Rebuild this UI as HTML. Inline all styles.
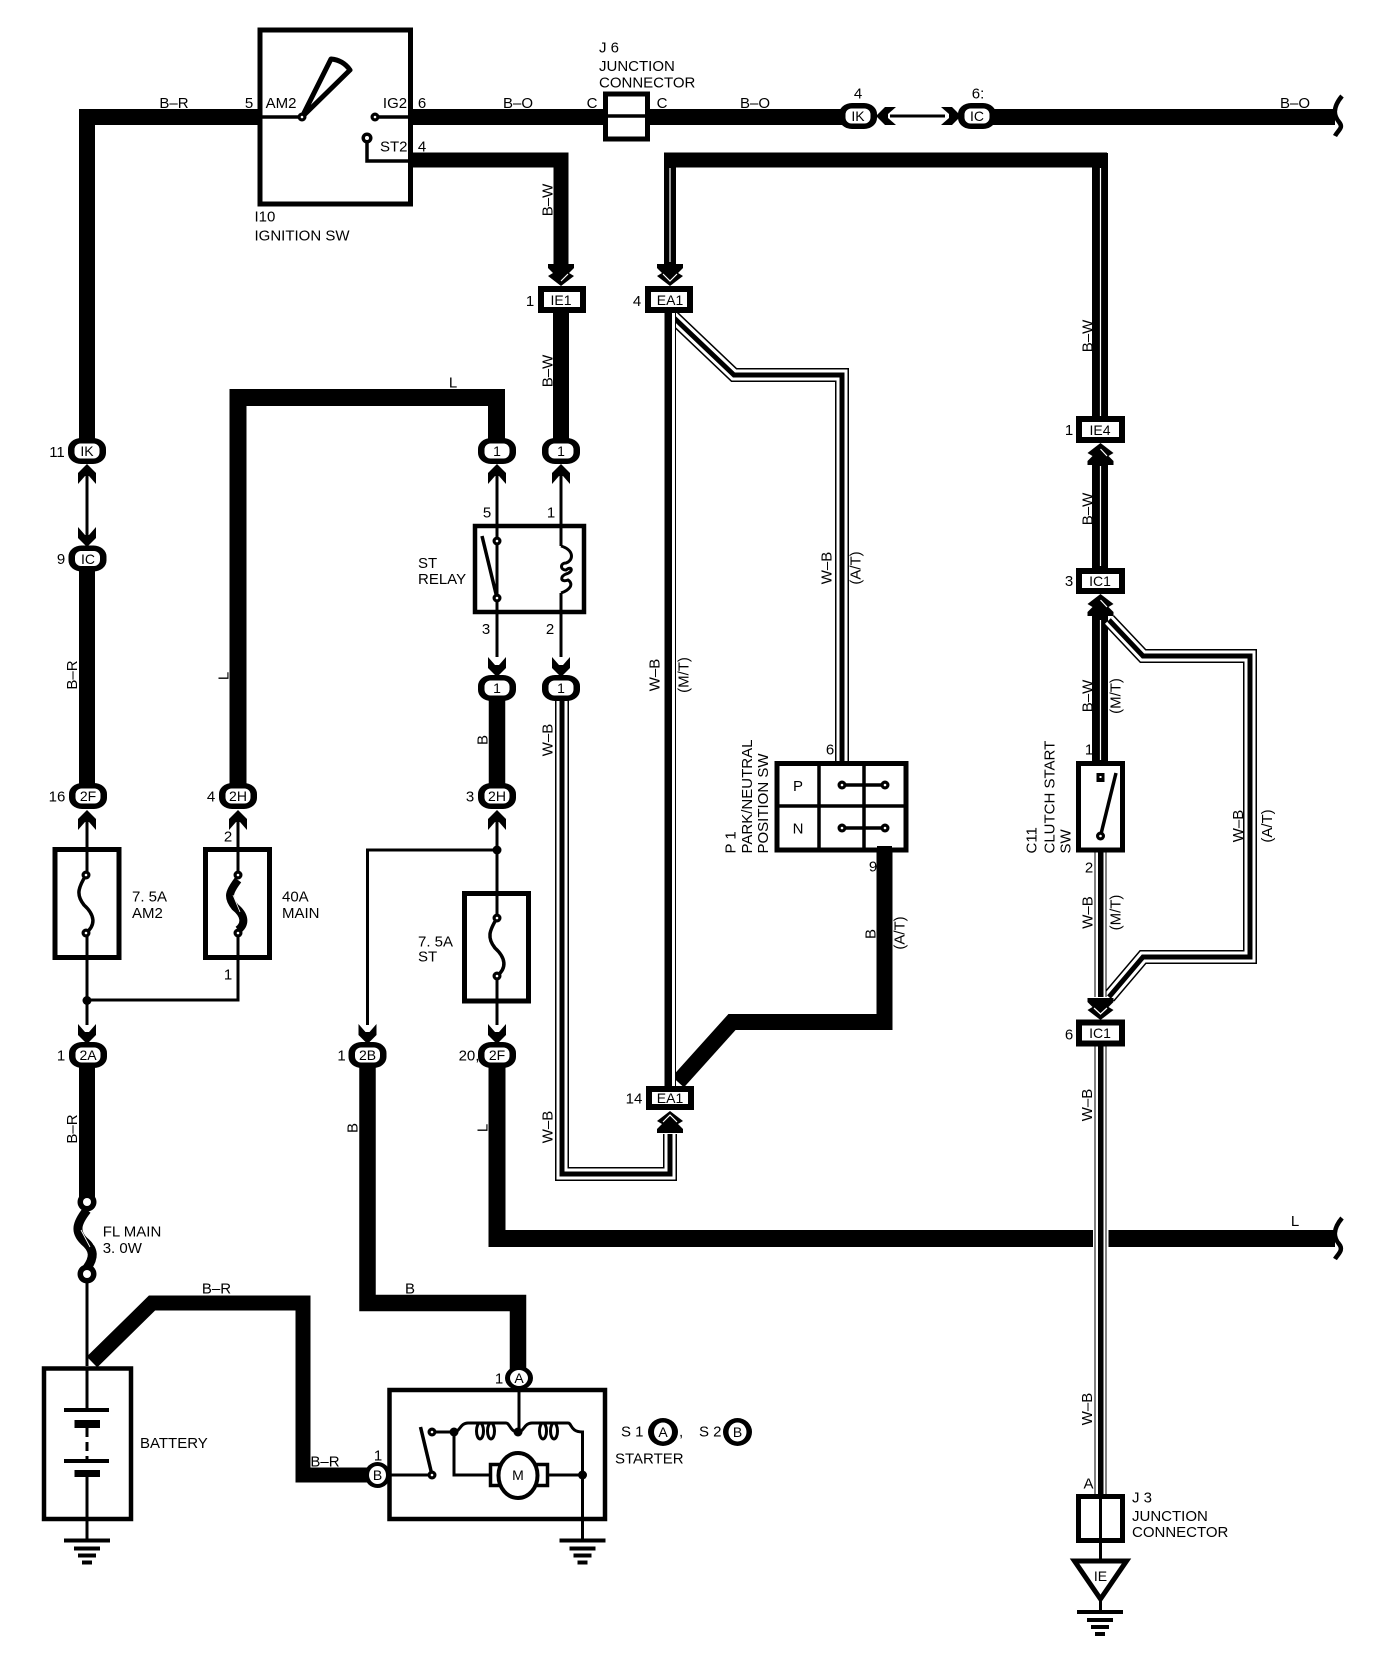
<!DOCTYPE html>
<html><head><meta charset="utf-8"><style>
html,body{margin:0;padding:0;background:#fff}
svg{display:block}
text{font-family:"Liberation Sans",sans-serif;font-size:15px;fill:#000}
.m{text-anchor:middle}
.c{font-size:14px;text-anchor:middle}
.w{fill:none;stroke:#000;stroke-linejoin:miter}
.b{fill:#fff;stroke:#000}
</style></head><body>
<svg width="1392" height="1664" viewBox="0 0 1392 1664" xmlns="http://www.w3.org/2000/svg">
<defs>
<path id="ad" d="M-9 0L-2 8L2 8L9 0L9 11L0 20L-9 11Z"/>
<path id="au" d="M-9 0L-2 -8L2 -8L9 0L9 -11L0 -20L-9 -11Z"/>
<path id="adl" d="M-13 0H13V4L8 9L13 12L0 22L-13 12L-8 9L-13 4Z"/>
<path id="aul" d="M-13 0H13V-4L8 -9L13 -12L0 -22L-13 -12L-8 -9L-13 -4Z"/>
<g id="cn"><rect x="-19" y="-13" width="38" height="26" rx="13" ry="11" fill="#000"/><rect x="-12.500" y="-7.500" width="25" height="15" rx="6" ry="6" fill="#fff"/></g>
<g id="gnd"><rect x="-23" y="-2" width="46" height="4"/><rect x="-13" y="6" width="26" height="4"/><rect x="-9" y="13" width="18" height="4"/><rect x="-5" y="20" width="10" height="4"/></g>
<g id="term"><circle r="4.500" fill="#000"/><circle r="1.300" fill="#fff"/></g>
</defs>

<!-- black solid wires -->
<g class="w">
<path stroke-width="16" d="M258 117H87V440"/>
<path stroke-width="16" d="M413 117H870"/>
<path stroke-width="16" d="M965 117H1335"/>
<path stroke-width="15" d="M413 160H561V266"/>
<path stroke-width="16" d="M561 312V440"/>
<path stroke-width="17" d="M238 785V397.500H496.500V440"/>
<path stroke-width="16" d="M87 560V785"/>
<path stroke-width="16.500" d="M497 688V785"/>
<path stroke-width="16" d="M87 1055V1200"/>
<path stroke-width="16.500" d="M367.500 1055V1303H518V1370"/>
<path stroke-width="17" d="M497 1055V1238.500H1335"/>
<path stroke-width="15" d="M92 1362L152 1303H303V1475H370"/>
<path stroke-width="16" d="M884.500 850V1022H732L678 1082"/>
<path stroke-width="15" d="M664 160H1107" />
<path stroke-width="12" d="M670 154V266"/>
<path stroke-width="16" d="M1100 153V420"/>
<path stroke-width="16" d="M1100 460V570"/>
<path stroke-width="16" d="M1100 610V765"/>
</g>
<!-- white slits -->
<g stroke="#fff" stroke-width="1.200" fill="none">
<path d="M670 168V262"/>
<path d="M1100.500 168V416"/>
<path d="M1100.500 466V566"/>
<path d="M1100.500 620V760"/>
</g>
<rect x="1093" y="1225" width="15.500" height="26" fill="#fff"/>

<!-- white/black W-B wires -->
<g class="w" stroke-linejoin="miter">
<path stroke-width="14" d="M672 316L734 375H842V762"/>
<path stroke="#fff" stroke-width="11" d="M672 316L734 375H842V762"/>
<path stroke-width="5" d="M672 316L734 375H842V762"/>
<path stroke-width="14" d="M562 690V1174H670V1134"/>
<path stroke="#fff" stroke-width="11" d="M562 690V1174H670V1134"/>
<path stroke-width="5" d="M562 690V1174H670V1134"/>
<path stroke-width="14" d="M1109 620L1143 656H1250V957H1143L1109 997"/>
<path stroke="#fff" stroke-width="11" d="M1109 620L1143 656H1250V957H1143L1109 997"/>
<path stroke-width="5" d="M1109 620L1143 656H1250V957H1143L1109 997"/>
</g>
<rect x="664.500" y="312" width="11.500" height="775" fill="#000"/>
<rect x="672" y="312" width="3" height="775" fill="#fff"/>
<rect x="1094.500" y="852" width="12" height="145" fill="#000"/>
<rect x="1095.500" y="852" width="10" height="145" fill="#fff"/>
<rect x="1098" y="852" width="5.500" height="145" fill="#000"/>
<rect x="1094.500" y="1046" width="12" height="448" fill="#000"/>
<rect x="1095.500" y="1046" width="10" height="448" fill="#fff"/>
<rect x="1098" y="1046" width="5.500" height="448" fill="#000"/>

<!-- thin wires -->
<g class="w" stroke-width="3">
<path d="M87 470V535"/><path d="M497 470V657"/>
<path d="M561 470V546"/><path d="M561 593V657"/>
<path d="M87 815V1025"/><path d="M238 815V1000H87"/>
<path d="M497 815V1025"/><path d="M497 850H367.500V1025"/>
<path d="M890 116H945"/>
<path d="M87 1274V1366"/>
</g>
<circle cx="87" cy="1000.500" r="4.500"/><circle cx="497" cy="850" r="4.500"/>

<!-- squiggles -->
<path d="M1342 96C1332 108 1334 116 1339 122C1344 128 1338 130 1335 136" class="w" stroke-width="4.500"/>
<path d="M1342 1218C1332 1230 1334 1238 1339 1244C1344 1250 1338 1254 1335 1259" class="w" stroke-width="4.500"/>

<!-- ignition switch -->
<rect x="260" y="30" width="150.500" height="174" fill="none" stroke="#000" stroke-width="5"/>
<path class="w" stroke-width="3.500" d="M258 117H302M375 117H413M367 138V161H413"/>
<path d="M302 117L331 59Q343 60 350 70Z" fill="#fff" stroke="#000" stroke-width="5" stroke-linejoin="round"/>
<use href="#term" x="302" y="117"/><use href="#term" x="375" y="117"/>
<circle cx="367" cy="138" r="5.500"/><circle cx="367" cy="138" r="2" fill="#fff"/>

<!-- J6 -->
<rect x="605.500" y="94" width="42" height="45" class="b" stroke-width="5"/>
<path class="w" stroke-width="3.500" d="M605 116H648"/>

<!-- connector boxes -->
<g class="b" stroke-width="6">
<rect x="541" y="289" width="42" height="21"/>
<rect x="648" y="289" width="42" height="21"/>
<rect x="1079" y="419" width="43" height="21"/>
<rect x="1079" y="571" width="43" height="20"/>
<rect x="1079" y="1022.500" width="43" height="21"/>
<rect x="649" y="1089" width="42" height="18"/>
</g>

<!-- arrowheads -->
<g>
<use href="#ad" x="87" y="527"/>
<use href="#au" x="87" y="484"/><use href="#au" x="497" y="484"/><use href="#au" x="561" y="484"/>
<use href="#au" x="87" y="830"/><use href="#au" x="238" y="830"/><use href="#au" x="497" y="830"/>
<use href="#ad" x="497" y="657"/><use href="#ad" x="561" y="657"/>
<use href="#ad" x="87" y="1024"/><use href="#ad" x="367.500" y="1024"/><use href="#ad" x="497" y="1024"/>
<use href="#adl" x="561" y="264"/><use href="#adl" x="670" y="264"/>
<use href="#adl" x="1100.500" y="998"/>
<use href="#aul" x="1100.500" y="465"/><use href="#aul" x="1100.500" y="616"/><use href="#aul" x="670" y="1133"/>
<g transform="translate(896 116) rotate(90)"><use href="#ad"/></g>
<g transform="translate(941 116) rotate(-90)"><use href="#ad"/></g>
</g>
<g fill="none" stroke="#fff" stroke-width="1.200">
<path d="M663 274L670 281L677 274"/>
<path d="M561 281L568 274"/>
<path d="M1094 1008L1100.500 1014L1107 1008"/>
<path d="M1100.500 449L1107 456"/>
<path d="M1100.500 600L1107 607"/>
<path d="M663 1122L670 1115L677 1122"/>
</g>

<!-- round connectors -->
<use href="#cn" x="858" y="116"/><use href="#cn" x="977" y="116"/>
<use href="#cn" x="87" y="451"/><use href="#cn" x="497" y="451"/><use href="#cn" x="561" y="451"/>
<use href="#cn" x="87.500" y="558.500"/>
<use href="#cn" x="497" y="688"/><use href="#cn" x="561" y="688"/>
<use href="#cn" x="88" y="796"/><use href="#cn" x="238" y="796"/><use href="#cn" x="497" y="796"/>
<use href="#cn" x="88" y="1055"/><use href="#cn" x="367.500" y="1055"/><use href="#cn" x="497" y="1055"/>
<ellipse cx="519" cy="1378" rx="14" ry="12" fill="#000"/><ellipse cx="519" cy="1378" rx="9" ry="8" fill="#fff"/>
<ellipse cx="377.500" cy="1475" rx="13" ry="13" fill="#000"/><ellipse cx="377.500" cy="1475" rx="8.500" ry="9" fill="#fff"/>
<ellipse cx="663" cy="1432" rx="15" ry="14" fill="#000"/><ellipse cx="663" cy="1432" rx="9" ry="9.500" fill="#fff"/>
<ellipse cx="737.500" cy="1432" rx="14.500" ry="14" fill="#000"/><ellipse cx="737.500" cy="1432" rx="9" ry="9.500" fill="#fff"/>

<!-- relay -->
<rect x="475" y="526" width="109" height="86" fill="none" stroke="#000" stroke-width="4.500"/>
<path class="w" stroke-width="3" d="M497 470V541M497 598V657"/>
<path class="w" stroke-width="3.500" d="M497 598L482 536"/>
<use href="#term" x="497" y="541"/><use href="#term" x="497" y="598"/>
<path class="w" stroke-width="3" d="M561 546C574 550 574 560 566 563C560 563 560 570 566 570C572 565 574 572 566 574C560 576 560 583 568 580C574 584 570 590 561 593"/>

<!-- fuses -->
<g class="b" stroke-width="5">
<rect x="55" y="849.500" width="64" height="108"/>
<rect x="205.500" y="849.500" width="64" height="108"/>
<rect x="464.500" y="893.500" width="64" height="107.500"/>
</g>
<path class="w" stroke-width="3" d="M87 847V875M87 933V1000M238 847V875M238 933V1000M497 850V918M497 976V1025"/>
<path class="w" stroke-width="3.500" d="M86 875C78 888 76 895 84 905C95 915 96 925 86 933"/>
<path class="w" stroke-width="3.500" d="M497 918C489 931 487 938 495 948C506 958 507 968 497 976"/>
<path class="w" stroke-width="8" d="M238 880C229 892 227 897 235 907C245 915 246 924 238 930"/>
<path d="M233 895L240 912M237 893L244 910" stroke="#fff" stroke-width="0.800" fill="none"/>
<use href="#term" x="86" y="875"/><use href="#term" x="86" y="933"/>
<use href="#term" x="238" y="875"/><use href="#term" x="238" y="933"/>
<use href="#term" x="497" y="918"/><use href="#term" x="497" y="976"/>

<!-- FL main -->
<path class="w" stroke-width="9" d="M87 1210C76 1224 75 1232 84 1241C95 1250 94 1258 87 1268"/>
<path d="M81 1230L90 1247M85 1228L94 1245" stroke="#fff" stroke-width="0.900" fill="none"/>
<circle cx="87" cy="1202" r="9.500"/><circle cx="87" cy="1202" r="4" fill="#fff"/>
<circle cx="87" cy="1274" r="9.500"/><circle cx="87" cy="1274" r="4" fill="#fff"/>

<!-- battery -->
<rect x="44" y="1368.500" width="87" height="150.500" fill="#fff" stroke="#000" stroke-width="4.500"/>
<g class="w" stroke-width="3">
<path d="M87 1368V1410"/><path d="M87 1428V1461" stroke-dasharray="9 5"/><path d="M87 1477V1540"/>
</g>
<rect x="64" y="1408" width="45" height="4"/><rect x="74.500" y="1420" width="25.500" height="8"/>
<rect x="64" y="1459" width="45" height="4"/><rect x="74.500" y="1470" width="25.500" height="7"/>
<use href="#gnd" x="87" y="1540.500"/>

<!-- starter -->
<rect x="389.500" y="1390" width="215.500" height="129" fill="none" stroke="#000" stroke-width="4.500"/>
<g class="w" stroke-width="3">
<path d="M519 1390V1432"/>
<path d="M436 1432H454C460 1432 460 1423 468 1423H506C510 1423 510 1432 518 1432C524 1432 524 1423 532 1423H568C572 1423 570 1432 582.500 1432V1540"/>
<path d="M454 1432V1475H489M549 1475H582.500"/>
<path d="M389 1475H432"/>
</g>
<g fill="#fff" stroke="#000" stroke-width="3">
<ellipse cx="480" cy="1431" rx="3.500" ry="8"/><ellipse cx="491" cy="1431" rx="3.500" ry="8"/>
<ellipse cx="543" cy="1431" rx="3.500" ry="8"/><ellipse cx="554" cy="1431" rx="3.500" ry="8"/>
</g>
<path class="w" stroke-width="3.500" d="M432 1475L420.500 1427"/>
<use href="#term" x="432" y="1475"/><use href="#term" x="432" y="1432"/>
<circle cx="454" cy="1432" r="4.500"/><circle cx="518" cy="1432" r="4.500"/><circle cx="582.500" cy="1475" r="4.500"/>
<rect x="490.500" y="1464.500" width="57" height="21" class="b" stroke-width="3.500"/>
<rect x="494" y="1468" width="50" height="14" fill="#fff"/>
<ellipse cx="518" cy="1475.500" rx="19.500" ry="22.500" class="b" stroke-width="4"/>
<use href="#gnd" x="582.500" y="1540.500"/>

<!-- P1 switch -->
<rect x="777" y="763.500" width="129" height="86.500" fill="#fff" stroke="#000" stroke-width="5"/>
<path class="w" stroke-width="3.500" d="M819 763V850M864 763V850M777 806H906"/>
<path class="w" stroke-width="3.500" d="M842 785H885M842 828H885"/>
<use href="#term" x="842" y="785"/><use href="#term" x="885" y="785"/>
<use href="#term" x="842" y="828"/><use href="#term" x="885" y="828"/>
<path class="w" stroke-width="15" d="M884.500 846V860"/>

<!-- C11 -->
<rect x="1078.500" y="763.500" width="44" height="86.500" fill="#fff" stroke="#000" stroke-width="5"/>
<path class="w" stroke-width="3.500" d="M1100.500 836L1116 773"/>
<rect x="1096.500" y="773" width="8" height="9" fill="#000"/><rect x="1099.500" y="776" width="2" height="2" fill="#fff"/>
<use href="#term" x="1100.500" y="836"/>

<!-- J3 + ground -->
<rect x="1078.500" y="1496.500" width="44" height="44" class="b" stroke-width="5"/>
<path class="w" stroke-width="3" d="M1100.500 1494V1560M1100.500 1600V1612"/>
<path d="M1074.500 1561H1126.500L1100.500 1599Z" class="b" stroke-width="5"/>
<use href="#gnd" x="1100" y="1612"/>

<!-- labels -->
<g>
<text class="m" x="174" y="108">B–R</text>
<text class="m" x="249" y="108">5</text>
<text class="m" x="281" y="108">AM2</text>
<text class="m" x="395" y="108">IG2</text>
<text class="m" x="422" y="108">6</text>
<text class="m" x="518" y="108">B–O</text>
<text class="m" x="592" y="108">C</text>
<text class="m" x="662" y="108">C</text>
<text x="599" y="52.500">J 6</text>
<text x="599" y="71">JUNCTION</text>
<text x="599" y="87.500">CONNECTOR</text>
<text x="380" y="151.500">ST2</text>
<text class="m" x="422" y="151.500">4</text>
<text x="254.500" y="221.500">I10</text>
<text x="254.500" y="240.500">IGNITION SW</text>
<text class="m" x="755" y="108">B–O</text>
<text class="m" x="1295" y="108">B–O</text>
<text class="m" x="858" y="98.500">4</text>
<text class="m" x="978" y="98.500">6:</text>
<text class="c" x="858" y="121">IK</text>
<text class="c" x="977" y="121">IC</text>
<text class="m" x="530" y="306">1</text>
<text class="m" x="637" y="306">4</text>
<text class="c" x="561" y="305">IE1</text>
<text class="c" x="670" y="305">EA1</text>
<text class="m" x="453" y="387.500">L</text>
<text class="m" x="57" y="457">11</text>
<text class="c" x="87" y="456">IK</text>
<text class="c" x="497" y="456">1</text>
<text class="c" x="561" y="456">1</text>
<text class="m" x="487" y="517.500">5</text>
<text class="m" x="551" y="517.500">1</text>
<text class="m" x="61" y="564">9</text>
<text class="c" x="88" y="564">IC</text>
<text x="418" y="568">ST</text>
<text x="418" y="584">RELAY</text>
<text class="m" x="486" y="634">3</text>
<text class="m" x="550" y="634">2</text>
<text class="c" x="497" y="693">1</text>
<text class="c" x="561" y="693">1</text>
<text class="m" x="57" y="801.500">16</text>
<text class="c" x="88" y="801">2F</text>
<text class="m" x="211" y="801.500">4</text>
<text class="c" x="238" y="801">2H</text>
<text class="m" x="470" y="801.500">3</text>
<text class="c" x="497" y="801">2H</text>
<text class="m" x="228" y="841.500">2</text>
<text class="m" x="228" y="979.500">1</text>
<text x="132" y="901.500">7. 5A</text>
<text x="132" y="918">AM2</text>
<text x="282" y="901.500">40A</text>
<text x="282" y="918">MAIN</text>
<text x="418" y="946.500">7. 5A</text>
<text x="418" y="961.500">ST</text>
<text class="m" x="61" y="1060.500">1</text>
<text class="c" x="88" y="1060">2A</text>
<text class="m" x="341.500" y="1060.500">1</text>
<text class="c" x="367.500" y="1060">2B</text>
<text class="m" x="469" y="1060.500">20,</text>
<text class="c" x="497" y="1060">2F</text>
<text class="m" x="634" y="1103.500">14</text>
<text class="c" x="670" y="1103">EA1</text>
<text class="m" x="1069" y="435">1</text>
<text class="c" x="1100" y="435">IE4</text>
<text class="m" x="1069" y="586">3</text>
<text class="c" x="1100" y="586">IC1</text>
<text class="m" x="1069" y="1039.500">6</text>
<text class="c" x="1100" y="1038">IC1</text>
<text class="m" x="798" y="791">P</text>
<text class="m" x="798" y="833.500">N</text>
<text class="m" x="830" y="754.500">6</text>
<text class="m" x="873" y="871.500">9</text>
<text class="m" x="1089" y="754.500">1</text>
<text class="m" x="1089" y="872.500">2</text>
<text class="m" x="1295" y="1226">L</text>
<text x="102.700" y="1236.500">FL MAIN</text>
<text x="102.700" y="1253">3. 0W</text>
<text class="m" x="216.500" y="1293.500">B–R</text>
<text class="m" x="410" y="1293.500">B</text>
<text class="m" x="325" y="1466.500">B–R</text>
<text class="m" x="378" y="1460.500">1</text>
<text class="c" x="377.500" y="1480">B</text>
<text class="m" x="499" y="1383.500">1</text>
<text class="c" x="519" y="1383">A</text>
<text x="140" y="1448">BATTERY</text>
<text x="621" y="1436.500">S 1</text>
<text class="c" x="663" y="1437">A</text>
<text x="679" y="1436.500">,</text>
<text x="699" y="1436.500">S 2</text>
<text class="c" x="737.500" y="1437">B</text>
<text x="615" y="1463.500">STARTER</text>
<text class="c" x="518" y="1480">M</text>
<text class="m" x="1088.500" y="1488.500">A</text>
<text x="1132" y="1502.500">J 3</text>
<text x="1132" y="1521">JUNCTION</text>
<text x="1132" y="1537">CONNECTOR</text>
<text class="c" x="1100.500" y="1581">IE</text>
</g>
<!-- rotated labels -->
<g>
<text class="m" transform="translate(552.500 200) rotate(-90)">B–W</text>
<text class="m" transform="translate(552.500 371) rotate(-90)">B–W</text>
<text class="m" transform="translate(1092.500 336) rotate(-90)">B–W</text>
<text class="m" transform="translate(1092.500 509) rotate(-90)">B–W</text>
<text class="m" transform="translate(1092.500 696) rotate(-90)">B–W</text>
<text class="m" transform="translate(77 675) rotate(-90)">B–R</text>
<text class="m" transform="translate(77 1129) rotate(-90)">B–R</text>
<text class="m" transform="translate(228.500 676) rotate(-90)">L</text>
<text class="m" transform="translate(487.500 1128) rotate(-90)">L</text>
<text class="m" transform="translate(487.500 740) rotate(-90)">B</text>
<text class="m" transform="translate(357.500 1128) rotate(-90)">B</text>
<text class="m" transform="translate(552.500 740) rotate(-90)">W–B</text>
<text class="m" transform="translate(552.500 1127) rotate(-90)">W–B</text>
<text class="m" transform="translate(659.500 675) rotate(-90)">W–B</text>
<text class="m" transform="translate(688.500 675) rotate(-90)">(M/T)</text>
<text class="m" transform="translate(831.500 568) rotate(-90)">W–B</text>
<text class="m" transform="translate(860.500 568) rotate(-90)">(A/T)</text>
<text class="m" transform="translate(875.500 934) rotate(-90)">B</text>
<text class="m" transform="translate(904.500 933) rotate(-90)">(A/T)</text>
<text class="m" transform="translate(1120.500 696) rotate(-90)">(M/T)</text>
<text class="m" transform="translate(1092.500 912.500) rotate(-90)">W–B</text>
<text class="m" transform="translate(1120.500 912.500) rotate(-90)">(M/T)</text>
<text class="m" transform="translate(1243 826) rotate(-90)">W–B</text>
<text class="m" transform="translate(1272 826) rotate(-90)">(A/T)</text>
<text class="m" transform="translate(1092 1105) rotate(-90)">W–B</text>
<text class="m" transform="translate(1092 1409) rotate(-90)">W–B</text>
<text transform="translate(735.500 853.500) rotate(-90)">P 1</text>
<text transform="translate(752 853.500) rotate(-90)">PARK/NEUTRAL</text>
<text transform="translate(768 853.500) rotate(-90)">POSITION SW</text>
<text transform="translate(1036.500 853.500) rotate(-90)">C11</text>
<text transform="translate(1054.500 853.500) rotate(-90)">CLUTCH START</text>
<text transform="translate(1070.500 853.500) rotate(-90)">SW</text>
</g>
</svg>
</body></html>
